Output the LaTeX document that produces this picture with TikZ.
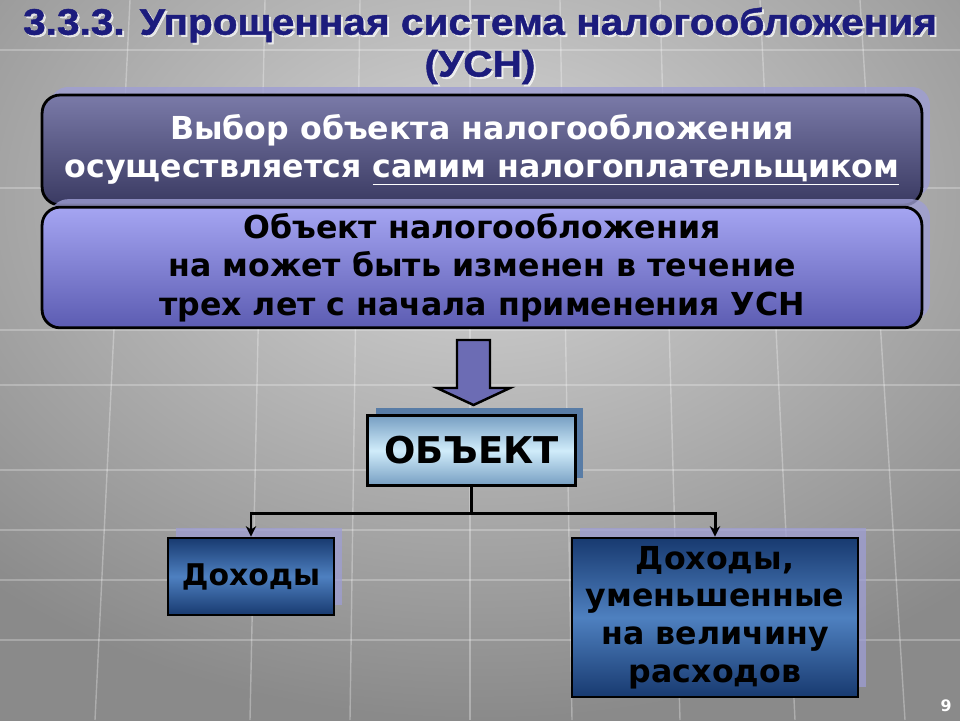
\documentclass[tikz,border=0pt]{standalone}
\usepackage{fontspec}
\setmainfont{DejaVu Sans}
\newfontfamily\titlefont[FakeBold=1.2]{Liberation Sans Bold}
\usetikzlibrary{arrows.meta}
\usetikzlibrary{shadows}
\definecolor{bglight}{RGB}{214,214,214}
\definecolor{bgdark}{RGB}{138,138,138}
\definecolor{navy}{RGB}{28,28,125}
\definecolor{slatetop}{RGB}{122,122,168}
\definecolor{slatebot}{RGB}{58,58,98}
\definecolor{peritop}{RGB}{165,165,242}
\definecolor{peribot}{RGB}{92,92,178}
\definecolor{objedge}{RGB}{118,158,194}
\definecolor{objmid}{RGB}{208,236,250}
\definecolor{incdark}{RGB}{24,58,112}
\definecolor{incmid}{RGB}{78,128,192}
\definecolor{steelshadow}{RGB}{88,124,166}
\definecolor{lavshadow}{RGB}{158,158,212}
\definecolor{arrowfill}{RGB}{108,108,180}

\tikzset{
  bigbox/.style={draw=black, line width=1.6pt, rounded corners=0.36cm,
    minimum width=17.6cm, align=center,
    font=\fontsize{18}{22}\selectfont\bfseries,
    drop shadow={shadow xshift=0.16cm, shadow yshift=0.16cm, fill=lavshadow, opacity=0.8}},
  choicebox/.style={bigbox, top color=slatetop, bottom color=slatebot, text=white},
  limitbox/.style={bigbox, top color=peritop, bottom color=peribot},
  objbox/.style={draw=black, line width=1.6pt, minimum width=4.16cm, minimum height=1.4cm,
    top color=objedge, bottom color=objedge, middle color=objmid,
    font=\fontsize{21}{24}\selectfont\bfseries,
    drop shadow={shadow xshift=0.16cm, shadow yshift=0.16cm, fill=steelshadow, opacity=1}},
  incbox/.style={draw=black, line width=1.6pt, align=center,
    top color=incdark, bottom color=incdark, middle color=incmid,
    font=\fontsize{17}{21.4}\selectfont\bfseries,
    drop shadow={shadow xshift=0.16cm, shadow yshift=0.2cm, fill=lavshadow, opacity=0.75}},
  titletext/.style={font=\titlefont\fontsize{21}{24}\selectfont, xscale=1.1},
  link/.style={draw=black, line width=1.7pt},
}

\begin{document}
\begin{tikzpicture}[x=0.02cm, y=-0.02cm]
\useasboundingbox (0,0) rectangle (960,720);
% background
\begin{scope}
\clip (0,0) rectangle (960,720);
\shade[inner color=bglight, outer color=bgdark] (-250,-320) rectangle (1210,720);
\foreach \x/\xx in {130/95, 265/250, 360/350, 470/470, 560/572, 660/680, 760/795, 860/905}
  \draw[white, opacity=0.3, line width=0.8pt] (\x,0) -- (\xx,720);
\foreach \y in {50, 188, 330, 385, 470, 530, 580, 640}
  \draw[white, opacity=0.25, line width=0.8pt] (0,\y) -- (960,\y);
\end{scope}

% title
\node[titletext, text=white, opacity=0.7] (titleshade1) at (482,27) {3.3.3. Упрощенная система налогообложения};
\node[titletext, text=navy] (title1) at (480,25) {3.3.3. Упрощенная система налогообложения};
\node[titletext, text=white, opacity=0.7] (titleshade2) at (482,69) {(УСН)};
\node[titletext, text=navy] (title2) at (480,67) {(УСН)};

% choice and limit
\node[choicebox, minimum height=2.2cm] (choice) at (482,150)
  {Выбор объекта налогообложения\\осуществляется \underline{самим налогоплательщиком}};
\node[limitbox, minimum height=2.38cm] (limit) at (482,267.5)
  {Объект налогообложения\\на может быть изменен в течение\\трех лет с начала применения УСН};

% block arrow
\draw[fill=arrowfill, line width=1.4pt, line join=miter]
  (457,340) -- (490,340) -- (490,388) -- (510,388) -- (473.5,405)
  -- (437,388) -- (457,388) -- cycle;

% object and its two kinds
\node[objbox] (obj) at (471.5,450.5) {ОБЪЕКТ};
\node[incbox, minimum width=3.32cm, minimum height=1.54cm] (inc) at (251,576.5) {Доходы};
\node[incbox, minimum width=5.72cm, minimum height=3.18cm,
  font=\fontsize{18}{21.4}\selectfont\bfseries] (incexp) at (715,617.5)
  {Доходы,\\уменьшенные\\на величину\\расходов};

\coordinate (split) at (471.5,513);
\draw[link] (obj.south) -- (split);
\draw[link, -{Stealth[length=6pt, width=6pt]}] (split) -| (inc.north);
\draw[link, -{Stealth[length=6pt, width=6pt]}] (split) -| (incexp.north);

\node[text=white, font=\fontsize{9}{10}\selectfont\bfseries] (pagenum) at (946,706) {9};
\end{tikzpicture}
\end{document}
